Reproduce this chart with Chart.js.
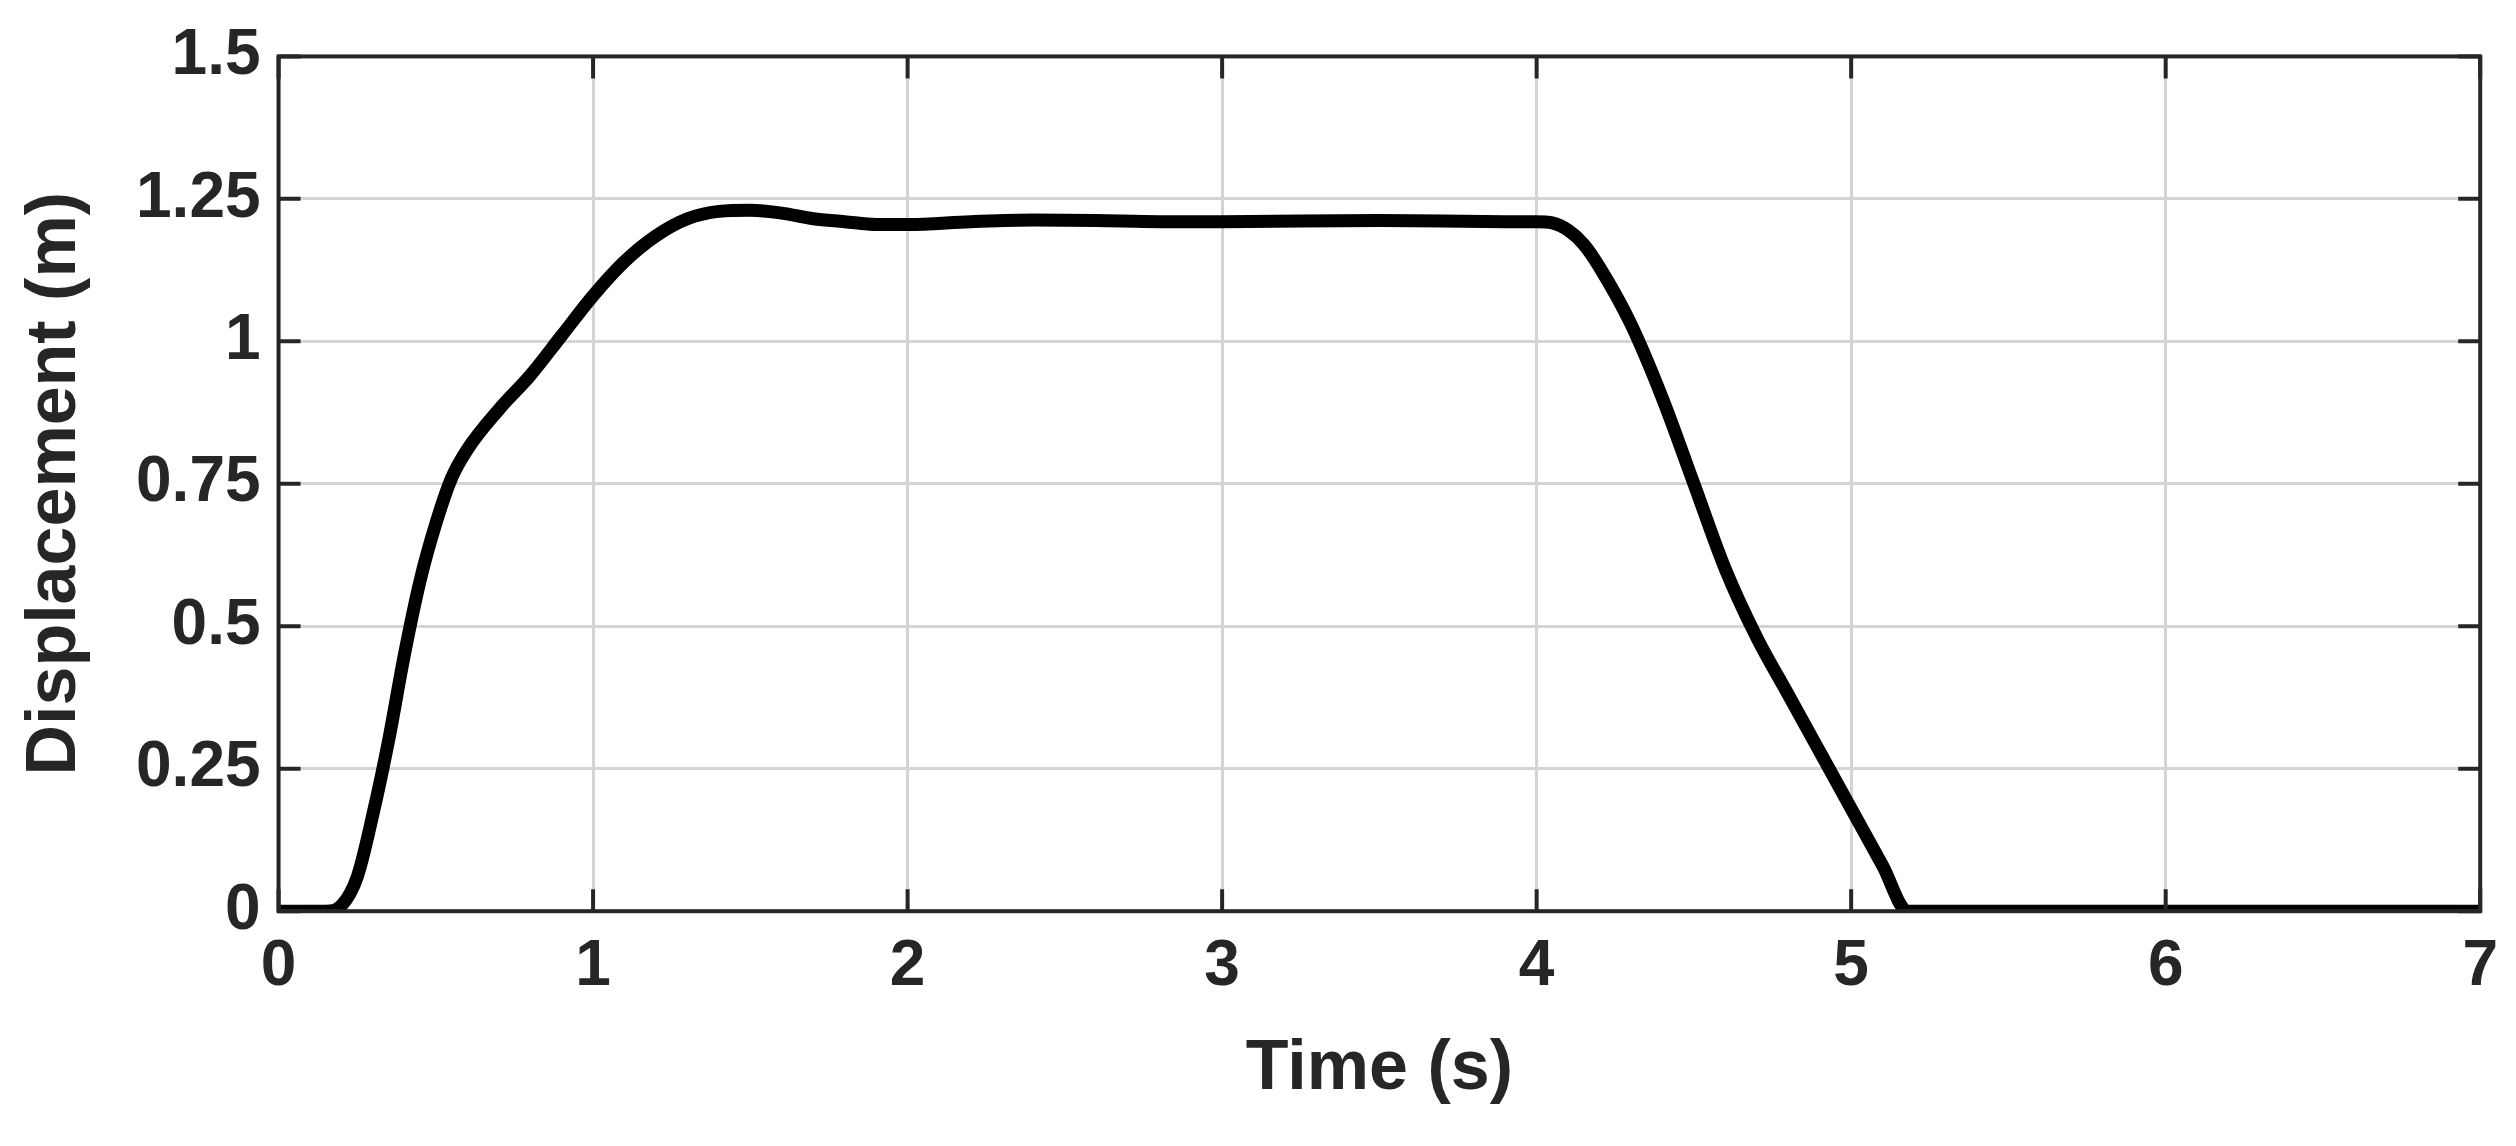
<!DOCTYPE html>
<html>
<head>
<meta charset="utf-8">
<script src="https://cdn.jsdelivr.net/npm/chart.js@4"></script>
<style>
  html, body { margin: 0; padding: 0; background: #fff; }
  #wrap { width: 2516px; height: 1146px; }
</style>
</head>
<body>
<div id="wrap"><canvas id="chart"></canvas></div>
<script>
// displacement curve
const timeS = [0, 0.15, 0.2, 0.25, 0.3, 0.35, 0.4, 0.45, 0.5, 0.55, 0.6, 0.7, 0.8, 0.9, 1.0, 1.1, 1.2, 1.3, 1.4, 1.5, 1.6, 1.7, 1.8, 1.9, 2.0, 2.2, 2.4, 2.6, 2.8, 3.0, 3.5, 3.9, 4.0, 4.05, 4.1, 4.15, 4.2, 4.3, 4.4, 4.5, 4.6, 4.7, 4.8, 4.9, 5.0, 5.1, 5.18, 7];
const displacementM = [0, 0, 0.01, 0.06, 0.17, 0.3, 0.45, 0.58, 0.68, 0.76, 0.81, 0.88, 0.94, 1.01, 1.08, 1.14, 1.185, 1.215, 1.228, 1.23, 1.225, 1.215, 1.21, 1.205, 1.205, 1.21, 1.213, 1.212, 1.21, 1.21, 1.212, 1.21, 1.21, 1.208, 1.195, 1.17, 1.13, 1.03, 0.9, 0.75, 0.6, 0.48, 0.38, 0.28, 0.18, 0.08, 0, 0];
const xTicks = [0, 1, 2, 3, 4, 5, 6, 7];
const yTicks = [0, 0.25, 0.5, 0.75, 1, 1.25, 1.5];

const axisColor = '#262626';
const font = { family: '"Liberation Sans", Arial, sans-serif', weight: 'bold', size: 64 };

// box frame plus inward tick marks, like the matlab look
const boxPlugin = {
  id: 'box',
  afterDatasetsDraw(chart) {
    const { ctx, chartArea: a, scales } = chart;
    ctx.save();
    ctx.strokeStyle = axisColor;
    ctx.lineWidth = 4;
    ctx.strokeRect(a.left, a.top, a.right - a.left, a.bottom - a.top);
    ctx.beginPath();
    const len = 22;
    xTicks.forEach(v => {
      const x = scales.x.getPixelForValue(v);
      ctx.moveTo(x, a.bottom); ctx.lineTo(x, a.bottom - len);
      ctx.moveTo(x, a.top); ctx.lineTo(x, a.top + len);
    });
    yTicks.forEach(v => {
      const y = scales.y.getPixelForValue(v);
      ctx.moveTo(a.left, y); ctx.lineTo(a.left + len, y);
      ctx.moveTo(a.right, y); ctx.lineTo(a.right - len, y);
    });
    ctx.stroke();
    ctx.restore();
  }
};

new Chart(document.getElementById('chart'), {
  type: 'line',
  data: {
    datasets: [{
      data: timeS.map((t, i) => ({ x: t, y: displacementM[i] })),
      borderColor: '#000',
      borderWidth: 13,
      pointRadius: 0,
      cubicInterpolationMode: 'monotone',
      borderCapStyle: 'round'
    }]
  },
  options: {
    responsive: true,
    maintainAspectRatio: false,
    animation: false,
    layout: { padding: { top: 30, right: 32, left: 10, bottom: 30 } },
    plugins: { legend: { display: false }, tooltip: { enabled: false } },
    scales: {
      x: {
        type: 'linear', min: 0, max: 7,
        afterBuildTicks: s => { s.ticks = xTicks.map(v => ({ value: v })); },
        grid: { color: '#d4d4d4', lineWidth: 3, drawTicks: false },
        border: { display: false },
        ticks: { color: axisColor, font, padding: 18, maxRotation: 0, callback: v => String(v) },
        title: { display: true, text: 'Time (s)', color: axisColor, font: { ...font, size: 70 }, padding: { top: 4 } }
      },
      y: {
        type: 'linear', min: 0, max: 1.5,
        afterBuildTicks: s => { s.ticks = yTicks.map(v => ({ value: v })); },
        grid: { color: '#d4d4d4', lineWidth: 3, drawTicks: false },
        border: { display: false },
        ticks: { color: axisColor, font, padding: 18, callback: v => String(v) },
        title: { display: true, text: 'Displacement (m)', color: axisColor, font: { ...font, size: 70 }, padding: { bottom: 20 } }
      }
    }
  },
  plugins: [boxPlugin]
});
</script>
</body>
</html>
